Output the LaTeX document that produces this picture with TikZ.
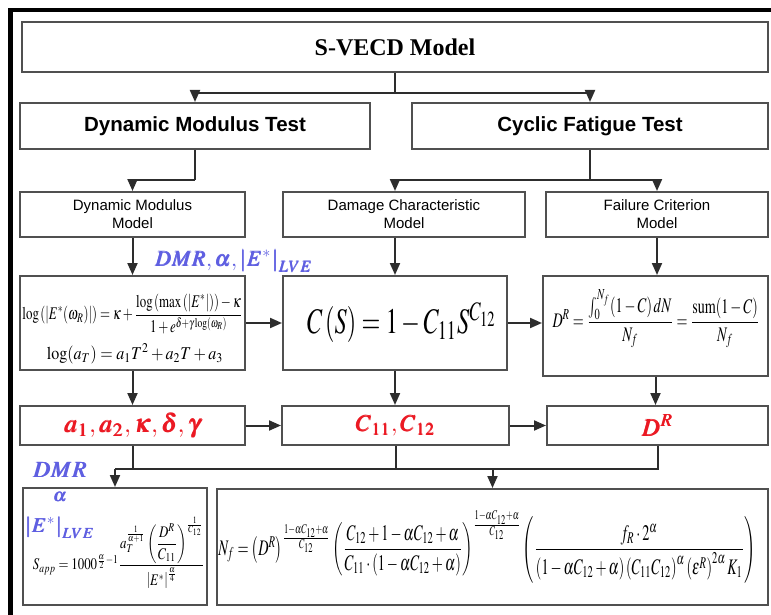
\documentclass[tikz,border=0pt]{standalone}
\usepackage{amsmath}
\usepackage{mathptmx}
\usepackage{bm}
\usepackage{fontspec}
\setmainfont{Liberation Serif}
\setsansfont{Liberation Sans}
\usetikzlibrary{arrows.meta}
\definecolor{boxgray}{RGB}{80,80,80}
\definecolor{lineblack}{RGB}{45,45,45}
\definecolor{lblblue}{RGB}{95,95,225}
\definecolor{lblred}{RGB}{235,25,35}
\begin{document}
\begin{tikzpicture}[x=1pt,y=-1pt,
    box/.style={draw=boxgray,line width=2pt,inner sep=0pt},
    testbox/.style={box,font=\sffamily\bfseries\fontsize{20.5}{24}\selectfont},
    modelbox/.style={box,align=center,font=\sffamily\fontsize{15}{18}\selectfont},
    parbox/.style={box,text=lblred},
    arr/.style={draw=lineblack,line width=2pt,-{Triangle[length=12pt,width=10pt]}},
    link/.style={draw=lineblack,line width=2pt}]
  \useasboundingbox (0,0) rectangle (771,615);
  % outer frame
  \draw[line width=4.5pt] (10.5,615) -- (10.5,10) -- (771,10);
  % boxes
  \node[box,minimum width=746pt,minimum height=50pt,font=\bfseries\fontsize{24}{28}\selectfont] (svecd) at (395,47) {S-VECD Model};
  \node[testbox,minimum width=350pt,minimum height=46pt] (dmt) at (195,126) {Dynamic Modulus Test};
  \node[testbox,minimum width=356pt,minimum height=46pt] (cft) at (590,126) {Cyclic Fatigue Test};
  \node[modelbox,minimum width=225pt,minimum height=45pt] (dmm) at (132.5,214.5) {Dynamic Modulus\\Model};
  \node[modelbox,minimum width=242pt,minimum height=45pt] (dcm) at (404,214.5) {Damage Characteristic\\Model};
  \node[modelbox,minimum width=222pt,minimum height=45pt] (fcm) at (657,214.5) {Failure Criterion\\Model};
  \node[box,minimum width=225pt,minimum height=94pt] (mod1) at (132.5,323) {};
  \node[box,minimum width=224pt,minimum height=94pt] (mod2) at (395,323) {};
  \node[box,minimum width=225pt,minimum height=100pt] (mod3) at (655.5,326) {};
  \node[parbox,minimum width=225pt,minimum height=39pt] (par1) at (132.5,425.5) {\resizebox{137pt}{!}{$\bm{a}_{\bm{1}},\bm{a}_{\bm{2}},\bm{\kappa},\bm{\delta},\bm{\gamma}$}};
  \node[parbox,minimum width=227pt,minimum height=39pt] (par2) at (395.5,425.5) {\resizebox{80pt}{!}{$\bm{C}_{\bm{11}},\bm{C}_{\bm{12}}$}};
  \node[parbox,minimum width=221pt,minimum height=39pt] (par3) at (657.5,425.5) {\resizebox{32pt}{!}{$\bm{D}^{\bm{R}}$}};
  \node[box,minimum width=184pt,minimum height=117pt] (sapp) at (115,546.5) {};
  \node[box,minimum width=551pt,minimum height=116pt] (nf) at (492.5,547) {};
  % formulas
  \node (eqmaster) at (132.5,314) {\resizebox*{220pt}{40pt}{$\log\left(\left|E^*(\omega_R)\right|\right)=\kappa+\dfrac{\log\left(\max\left(\left|E^*\right|\right)\right)-\kappa}{1+e^{\delta+\gamma\log(\omega_R)}}$}};
  \node (eqshift) at (135,354) {\resizebox*{176pt}{20pt}{$\log(a_T)=a_1T^2+a_2T+a_3$}};
  \node (eqdamage) at (402,323) {\resizebox*{190pt}{40pt}{$C\left(S\right)=1-C_{11}S^{C_{12}}$}};
  \node (eqfail) at (656,319) {\resizebox*{207pt}{58pt}{$D^R=\dfrac{\int_0^{N_f}(1-C)\,dN}{N_f}=\dfrac{\mathrm{sum}(1-C)}{N_f}$}};
  \node (eqsapp) at (119,553) {\resizebox*{172pt}{72pt}{$S_{app}=1000^{\frac{\alpha}{2}-1}\dfrac{a_T^{\frac{1}{\alpha+1}}\left(\dfrac{D^R}{C_{11}}\right)^{\frac{1}{C_{12}}}}{\left|E^*\right|^{\frac{\alpha}{4}}}$}};
  \node (eqnf) at (487,547) {\resizebox*{537pt}{72pt}{$N_f=\left(D^R\right)^{\frac{1-\alpha C_{12}+\alpha}{C_{12}}}\left(\dfrac{C_{12}+1-\alpha C_{12}+\alpha}{C_{11}\cdot\left(1-\alpha C_{12}+\alpha\right)}\right)^{\frac{1-\alpha C_{12}+\alpha}{C_{12}}}\left(\dfrac{f_R\cdot 2^{\alpha}}{\left(1-\alpha C_{12}+\alpha\right)\left(C_{11}C_{12}\right)^{\alpha}\left(\varepsilon^R\right)^{2\alpha}K_1}\right)$}};
  % blue labels
  \node[text=lblblue] (lblmod) at (234,261) {\resizebox{158pt}{!}{$\bm{DMR},\bm{\alpha},\bm{|E^{\ast}|}_{\bm{LVE}}$}};
  \node[text=lblblue] (lbldmr) at (60,470) {\resizebox{54pt}{!}{$\bm{DMR}$}};
  \node[text=lblblue] (lblalpha) at (60,497) {\resizebox{14pt}{!}{$\bm{\alpha}$}};
  \node[text=lblblue] (lble) at (60,528) {\resizebox{70pt}{!}{$\bm{|E^{\ast}|}_{\bm{LVE}}$}};
  % connectors
  \coordinate (j1) at (395,93);
  \coordinate (j2) at (195,180);
  \coordinate (j3) at (590,180);
  \coordinate (j4) at (0,469);
  \draw[link] (svecd.south) -- (j1);
  \draw[arr] (j1) -| (dmt.north);
  \draw[arr] (j1) -| (cft.north);
  \draw[link] (dmt.south) -- (j2);
  \draw[arr] (j2) -| (dmm.north);
  \draw[link] (cft.south) -- (j3);
  \draw[arr] (j3) -| (mod2.north |- dcm.north);
  \draw[arr] (j3) -| (fcm.north);
  \draw[arr] (dmm.south) -- (mod1.north);
  \draw[arr] (mod2.north |- dcm.south) -- (mod2.north);
  \draw[arr] (fcm.south) -- (fcm.south |- mod3.north);
  \draw[arr] (mod1.east) -- (mod2.west);
  \draw[arr] (mod2.east) -- (mod2.east -| mod3.west);
  \draw[arr] (mod1.south) -- (par1.north);
  \draw[arr] (mod2.south) -- (mod2.south |- par2.north);
  \draw[arr] (mod3.south) -- (mod3.south |- par3.north);
  \draw[arr] (par1.east) -- (par2.west);
  \draw[arr] (par2.east) -- (par3.west);
  \draw[link] (par1.south) -- (par1.south |- j4);
  \draw[link] (par2.south) -- (par2.south |- j4);
  \draw[link] (par3.south) -- (par3.south |- j4) -- (sapp.north |- j4);
  \draw[arr] (sapp.north |- j4) -- (sapp.north);
  \draw[arr] (nf.north |- j4) -- (nf.north);
\end{tikzpicture}
\end{document}
